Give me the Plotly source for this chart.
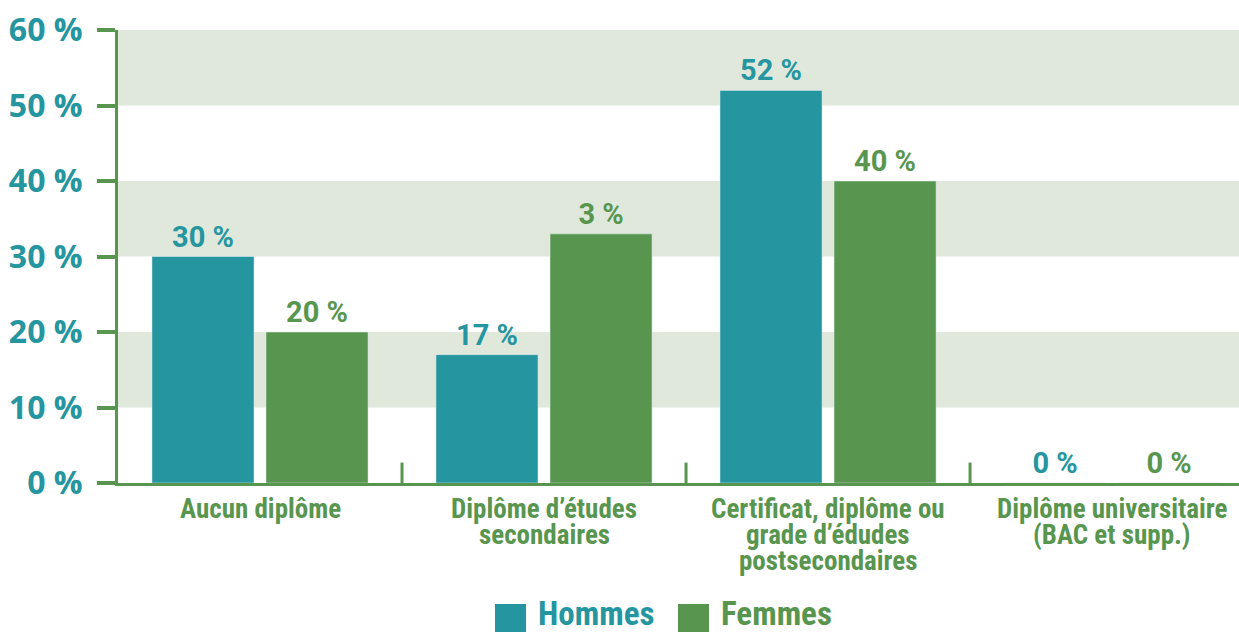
import plotly.graph_objects as go

categories = ["Aucun diplôme",
              "Diplôme d’études<br>secondaires",
              "Certificat, diplôme ou<br>grade d’édudes<br>postsecondaires",
              "Diplôme universitaire<br>(BAC et supp.)"]
hommes = [30, 17, 52, 0]
femmes = [20, 33, 40, 0]
hommes_labels = ["30 %", "17 %", "52 %", "0 %"]
femmes_labels = ["20 %", "3 %", "40 %", "0 %"]
y_ticks = [0, 10, 20, 30, 40, 50, 60]
y_tick_labels = ["0 %", "10 %", "20 %", "30 %", "40 %", "50 %", "60 %"]
series_names = ["Hommes", "Femmes"]

TEAL = "#2596a0"
GREEN = "#58964f"
BAND = "#e0e8dc"
COND = "Roboto Condensed, Open Sans Condensed, sans-serif"
ROUND = "Open Sans, Roboto, sans-serif"
LABEL = "Roboto, sans-serif"

W, H = 1239, 632
L, T, B = 118, 30, 149
PH = H - T - B  # plot height in px


def py(px):
    """pixel row -> paper y"""
    return (H - B - px) / PH


def pxx(px):
    return (px - L) / (W - L)


x = list(range(len(categories)))

fig = go.Figure()
fig.add_trace(go.Bar(x=x, y=hommes, name=series_names[0], marker_color=TEAL,
                     text=hommes_labels, textposition="outside",
                     textfont=dict(family=LABEL, size=29, color=TEAL, weight="bold"),
                     cliponaxis=False))
fig.add_trace(go.Bar(x=x, y=femmes, name=series_names[1], marker_color=GREEN,
                     text=femmes_labels, textposition="outside",
                     textfont=dict(family=LABEL, size=29, color=GREEN, weight="bold"),
                     cliponaxis=False))

shapes = []
annotations = []
for lo in (10, 30, 50):
    shapes.append(dict(type="rect", xref="paper", yref="y", x0=0, x1=1, y0=lo, y1=lo + 10,
                       fillcolor=BAND, line_width=0, layer="below"))
for i in range(len(categories) - 1):
    shapes.append(dict(type="line", xref="x", yref="y", x0=i + 0.5, x1=i + 0.5, y0=0, y1=2.7,
                       line=dict(color=GREEN, width=3)))

# category labels, one annotation per line (tight line spacing)
for i, cat in enumerate(categories):
    for j, line in enumerate(cat.split("<br>")):
        annotations.append(dict(xref="x", yref="paper", x=i, y=py(509 + 26 * j),
                                xanchor="center", yanchor="middle", showarrow=False, text=line,
                                font=dict(family=COND, size=27, color=GREEN, weight="bold")))

# custom legend
legend_items = [(series_names[0], TEAL, 495), (series_names[1], GREEN, 678)]
for name, col, px0 in legend_items:
    shapes.append(dict(type="rect", xref="paper", yref="paper",
                       x0=pxx(px0), x1=pxx(px0 + 31), y0=py(635), y1=py(604),
                       fillcolor=col, line_width=0))
    annotations.append(dict(xref="paper", yref="paper", x=pxx(px0 + 41), y=py(613),
                            xanchor="left", yanchor="middle", showarrow=False, text=name,
                            font=dict(family=COND, size=33, color=col, weight="bold")))

fig.update_layout(
    width=W, height=H,
    margin=dict(l=L, r=0, t=T, b=B),
    paper_bgcolor="white", plot_bgcolor="white",
    barmode="group", bargap=0.197, bargroupgap=0.105,
    showlegend=False,
    shapes=shapes, annotations=annotations,
    xaxis=dict(range=[-0.5, 3.447], tickmode="array", tickvals=x,
               showticklabels=False,
               showgrid=False, zeroline=False, showline=True, linecolor=GREEN, linewidth=3,
               ticks=""),
    yaxis=dict(range=[0, 60], tickmode="array", tickvals=y_ticks, ticktext=y_tick_labels,
               showgrid=False, zeroline=False, showline=True, linecolor=GREEN, linewidth=3,
               ticks="outside", ticklen=18, tickwidth=4, tickcolor=GREEN,
               ticklabelstandoff=8,
               tickfont=dict(family=ROUND, size=32, color=TEAL, weight="bold")),
)

fig.write_html("out.html", post_script="document.body.style.margin='0';",
               config={"displayModeBar": False})
